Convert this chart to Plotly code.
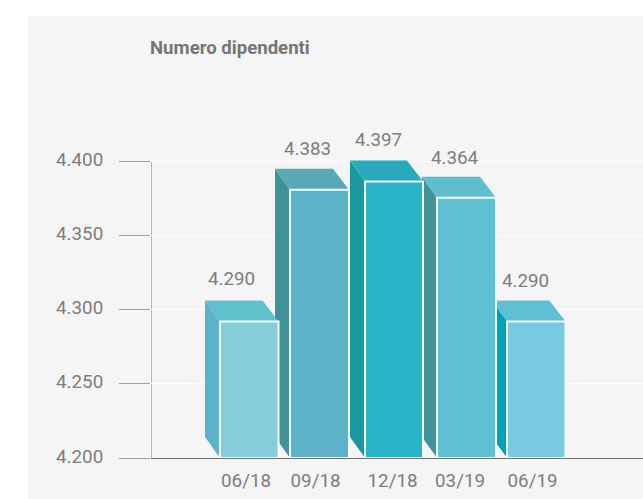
import plotly.graph_objects as go

# Data
categories = ["06/18", "09/18", "12/18", "03/19", "06/19"]
shown_values = [4290, 4383, 4397, 4364, 4290]      # printed labels
drawn_heights = [4292, 4381, 4386.5, 4375.5, 4292]   # height of the front faces read on the axis
y_ticks = [4200, 4250, 4300, 4350, 4400]

# Positions and sizes (x axis runs in screen-like units)
W, H = 643, 499
PLOT_L, AXIS_TOP, AXIS_BOTTOM = 151, 100, 458
UNIT_PX = 296.5 / 200
BASE = y_ticks[0]
front_left = [220, 290, 365, 437, 507]
front_right = [278.5, 349, 423, 496, 565.5]
tick_pos = [246, 315.5, 392.5, 460, 532.5]
label_x = [231, 307, 378, 455, 525]
label_gap = [22, 20, 21, 19, 20]
DX_L, DX_R, DY_PX = 15, 16, 21
DY = DY_PX / UNIT_PX
Y_MAX = BASE + (AXIS_BOTTOM - AXIS_TOP) / UNIT_PX

# Styles
front_col = ["#85CDDB", "#5EB2C8", "#27B4C9", "#62C0D3", "#78C9E2"]
side_col = ["#5CB3C9", "#3F929B", "#1A989F", "#40939B", "#00A0B8"]
top_col = ["#60C0CC", "#58A8B8", "#29A9B9", "#60BFCF", "#60BFD5"]
TEXT = "#7D7D7D"
FONT = "Roboto"


def poly(xs, ys, fill, line=None, lw=0):
    return go.Scatter(
        x=xs + xs[:1], y=ys + ys[:1], mode="lines", fill="toself", fillcolor=fill,
        line=dict(color=line or fill, width=lw), hoverinfo="skip", showlegend=False,
    )


fig = go.Figure()
# Right-most bars first so that each bar's front covers its right neighbour's side
for i in reversed(range(len(categories))):
    l, r, t = front_left[i], front_right[i], drawn_heights[i]
    fig.add_trace(poly([l, l, l - DX_L, l - DX_L], [BASE, t, t + DY, BASE + DY], side_col[i]))
    fig.add_trace(poly([l, r, r - DX_R, l - DX_L], [t, t, t + DY, t + DY], top_col[i]))
    fig.add_trace(poly([l, r, r, l], [BASE, BASE, t, t], front_col[i], "#F4FBFC", 2))

annotations = [
    dict(
        x=label_x[i], y=drawn_heights[i] + DY, xref="x", yref="y", yshift=label_gap[i],
        text=f"{shown_values[i]:,}".replace(",", "."), showarrow=False,
        font=dict(family=FONT, size=18.8, color=TEXT),
    )
    for i in range(len(categories))
]
annotations.append(dict(
    x=148 / W, y=1 - 48 / H, xref="paper", yref="paper", xanchor="left", yanchor="middle",
    text="<b>Numero dipendenti</b>", showarrow=False,
    font=dict(family=FONT, size=18.6, color="#757575"),
))

fig.update_layout(
    width=W, height=H, margin=dict(l=0, r=0, t=0, b=0, pad=0),
    paper_bgcolor="white", plot_bgcolor="rgba(0,0,0,0)", showlegend=False,
    separators=",.",
    annotations=annotations,
    shapes=[
        dict(type="rect", xref="paper", yref="paper", x0=28 / W, x1=1, y0=0, y1=1 - 16 / H,
             fillcolor="#F5F5F5", line_width=0, layer="below"),
        dict(type="line", xref="x", yref="y", x0=PLOT_L, x1=PLOT_L, y0=y_ticks[0], y1=y_ticks[-1],
             line=dict(color="#A0A0A0", width=1.5), layer="below"),
    ],
    xaxis=dict(
        automargin=False,
        domain=[PLOT_L / W, 1], range=[PLOT_L, W], tickmode="array", tickvals=tick_pos,
        ticktext=categories, showgrid=False, zeroline=False, showline=True,
        linecolor="#707070", linewidth=1, ticks="outside", ticklen=5,
        tickcolor="rgba(0,0,0,0)", tickfont=dict(family=FONT, size=18.8, color=TEXT),
    ),
    yaxis=dict(
        automargin=False,
        domain=[(H - AXIS_BOTTOM) / H, (H - AXIS_TOP) / H], range=[BASE, Y_MAX],
        tickmode="array", tickvals=y_ticks, tickformat=",d", showline=False,
        zeroline=False, showgrid=True, gridcolor="white", gridwidth=1,
        ticks="outside", ticklen=31, tickwidth=1, tickcolor="#A0A0A0",
        ticklabelstandoff=12, ticklabelshift=-2,
        tickfont=dict(family=FONT, size=18.8, color=TEXT),
    ),
)

fig.write_html(
    "out.html",
    config={"displayModeBar": False},
    post_script="document.body.style.margin='0';document.body.style.overflow='hidden';",
)
